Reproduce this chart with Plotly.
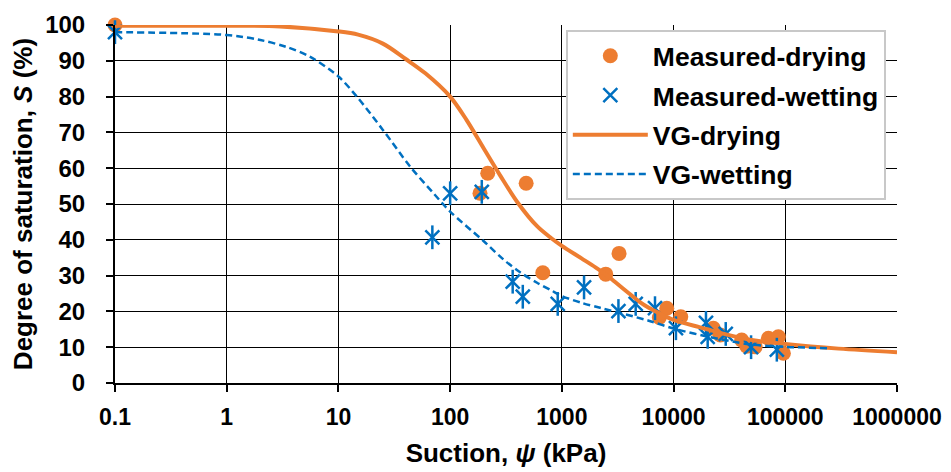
import plotly.graph_objects as go

# Measured data
drying_x = [0.1, 185, 217, 479, 675, 2470, 3250, 7460, 8690, 11600, 22700, 26200, 40700, 45200, 53700, 70600, 86700, 96200]
drying_y = [100, 53, 58.6, 55.8, 30.8, 30.4, 36.2, 18.3, 20.9, 18.5, 15.3, 13.4, 12.0, 10.3, 10.1, 12.5, 12.9, 8.3]

wetting_x = [0.1, 69.3, 100, 192, 363, 447, 918, 1580, 3210, 4580, 6820, 10500, 19500, 20200, 29300, 49400, 84000]
wetting_y = [98, 40.7, 53, 53.4, 28.3, 24.1, 22.1, 26.7, 20.1, 22.1, 20.9, 15.3, 16.8, 12.9, 13.7, 10.0, 9.3]

# VG fitted curves
vg_dry_x = [0.1, 1, 3, 10, 15, 25, 40, 60, 100, 140, 200, 280, 400, 600, 800, 1000, 1500, 2000,
            2500, 3000, 4000, 5000, 6000, 8000, 10000, 17000, 20000, 30000, 50000, 100000, 300000, 1000000]
vg_dry_y = [99.8, 99.8, 99.6, 98.2, 97.3, 94.8, 90.5, 86.5, 80.0, 73.5, 65.5, 58.0, 50.5, 43.8, 40.5, 38.3, 34.8, 32.3,
            30.2, 28.2, 25.0, 22.6, 21.0, 19.0, 17.6, 15.6, 15.0, 13.5, 12.0, 10.9, 9.6, 8.6]

vg_wet_x = [0.1, 1, 2, 3.4, 5.6, 10, 14.6, 25, 44, 71, 100, 200, 300, 420, 600, 800, 1000, 1500, 2200, 3100, 6000,
            10300, 20000, 48000, 100000, 250000]
vg_wet_y = [98.0, 97.2, 95.8, 93.9, 91.1, 85.6, 80.0, 70.7, 60.4, 53.0, 47.9, 39.6, 34.5, 31.0, 28.0, 25.9, 24.3, 22.4, 21.0, 19.8, 17.4,
            15.1, 13.0, 10.8, 10.1, 9.7]

x_tickvals = [0.1, 1, 10, 100, 1000, 10000, 100000, 1000000]
x_ticktext = ["0.1", "1", "10", "100", "1000", "10000", "100000", "1000000"]
y_tickvals = [0, 10, 20, 30, 40, 50, 60, 70, 80, 90, 100]

ORANGE = "#ED7D31"
BLUE = "#0070C0"
FONT = "Arial, Liberation Sans, sans-serif"

fig = go.Figure()
fig.add_trace(go.Scatter(
    x=drying_x, y=drying_y, mode="markers", name="Measured-drying",
    legendgroup="a", cliponaxis=False,
    marker=dict(symbol="circle", size=15, color=ORANGE),
))
fig.add_trace(go.Scatter(
    x=wetting_x, y=wetting_y, mode="markers", name="Measured-wetting",
    legendgroup="b", cliponaxis=False,
    marker=dict(symbol="x-thin-open", size=14, color=BLUE, line=dict(color=BLUE, width=2.5)),
))
fig.add_trace(go.Scatter(
    x=wetting_x, y=wetting_y, mode="markers", name="Measured-wetting",
    legendgroup="b", showlegend=False, cliponaxis=False, hoverinfo="skip",
    marker=dict(symbol="line-ns-open", size=17, color=BLUE, line=dict(color=BLUE, width=2.5)),
))
fig.add_trace(go.Scatter(
    x=vg_dry_x, y=vg_dry_y, mode="lines", name="VG-drying",
    legendgroup="c", line_shape="spline",
    line=dict(color=ORANGE, width=4, smoothing=0.9),
))
fig.add_trace(go.Scatter(
    x=vg_wet_x, y=vg_wet_y, mode="lines", name="VG-wetting",
    legendgroup="d", line_shape="spline",
    line=dict(color=BLUE, width=2.5, dash="7px,4px", smoothing=0.9),
))

# page body has an 8px margin, so the figure is sized and offset to compensate
fig.update_layout(
    width=943, height=464,
    margin=dict(l=107, r=54, t=17, b=89),
    paper_bgcolor="white", plot_bgcolor="white",
    font=dict(family=FONT, color="black"),
    showlegend=True,
    legend=dict(
        x=0.5765, y=0.986, xanchor="left", yanchor="top",
        bgcolor="white", bordercolor="#c8c8c8", borderwidth=2,
        font=dict(size=26.5, family=FONT, weight="bold", color="black"),
        tracegroupgap=2, itemwidth=75,
    ),
    xaxis=dict(
        type="log", range=[-1, 6], automargin=False,
        tickvals=x_tickvals, ticktext=x_ticktext,
        tickfont=dict(size=23, family=FONT, weight="bold"),
        showgrid=True, gridcolor="black", gridwidth=1,
        showline=True, linecolor="black", linewidth=2,
        ticks="outside", ticklen=7, tickwidth=2, tickcolor="black",
        ticklabelstandoff=5,
        title=dict(text="Suction, <i>ψ</i> (kPa)", font=dict(size=26, family=FONT, weight="bold"), standoff=15),
        zeroline=False,
    ),
    yaxis=dict(
        range=[0, 100], automargin=False,
        tickvals=y_tickvals,
        tickfont=dict(size=24, family=FONT, weight="bold"),
        showgrid=True, gridcolor="black", gridwidth=1,
        showline=True, linecolor="black", linewidth=2,
        ticks="outside", ticklen=7, tickwidth=2, tickcolor="black",
        ticklabelstandoff=16,
        title=dict(text="Degree of saturation, <i>S</i> (%)", font=dict(size=26, family=FONT, weight="bold"), standoff=10),
        zeroline=False,
    ),
)

fig.write_html("out.html")
